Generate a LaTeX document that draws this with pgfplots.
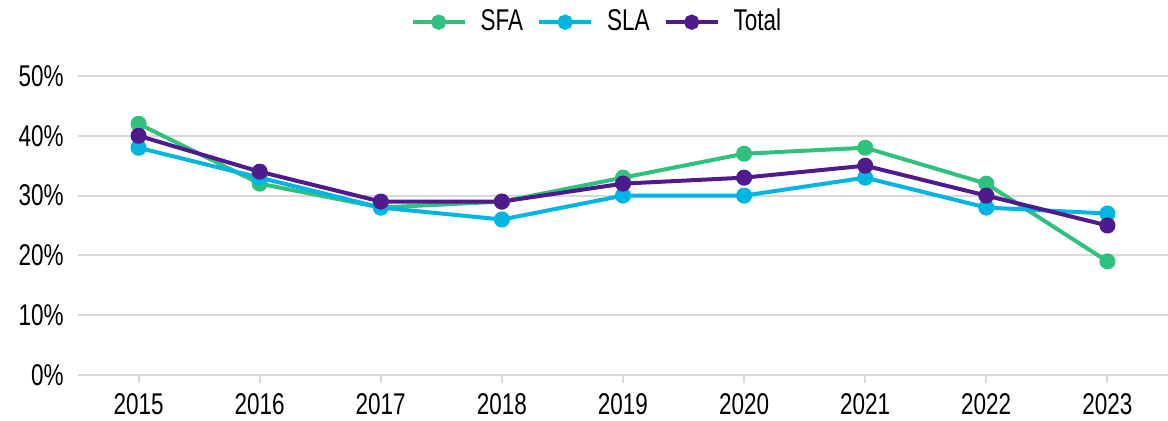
\documentclass[border=0pt]{standalone}
\usepackage{pgfplots}
\pgfplotsset{compat=1.18}
\usepackage{fontspec}
\setmainfont[FakeStretch=0.75]{Liberation Sans}
\definecolor{sfa}{HTML}{2EC27E}
\definecolor{sla}{HTML}{00B5E2}
\definecolor{tot}{HTML}{4E1A8E}
\definecolor{gridc}{HTML}{D9D9D9}
\begin{document}
\fontsize{15pt}{18pt}\selectfont
\begin{tikzpicture}
\begin{axis}[name=ax,
  scale only axis, width=545pt, height=149.5pt,
  xmin=2014.5, xmax=2023.5, ymin=0, ymax=50,
  xtick={2015,...,2023}, ytick={0,10,...,50},
  /pgf/number format/assume math mode=true,
  xticklabel={\pgfmathprintnumber[1000 sep=]{\tick}},
  yticklabel={\pgfmathprintnumber{\tick}\%},
  ymajorgrids, grid style={gridc, line width=1pt},
  axis line style={draw=none},
  axis x line*=bottom,
  x axis line style={draw=gridc, line width=1pt},
  major tick length=4pt,
  tick style={gridc, line width=1pt},
  xtick align=outside, ytick style={draw=none},
  tick label style={font=\fontsize{15pt}{18pt}\selectfont, text=black},
  xticklabel style={yshift=0pt},
  yticklabel style={xshift=-2pt},
  legend style={at={(0.477,1.18)}, anchor=center, draw=none, legend columns=-1,
    font=\fontsize{15pt}{18pt}\selectfont, column sep=5pt},
  legend image code/.code={
    \draw[#1, mark=none] (0pt,0pt) -- (26pt,0pt);
    \fill[#1] (13pt,0pt) circle (2.8pt);
  },
  every axis plot/.append style={line width=2pt, mark=*, mark size=3pt},
  clip=false,
]
\addplot[sfa, mark options={fill=sfa, draw=none}] coordinates {
(2015,42) (2016,32) (2017,28) (2018,29) (2019,33) (2020,37) (2021,38) (2022,32) (2023,19)};
\addlegendentry{SFA}
\addplot[sla, mark options={fill=sla, draw=none}] coordinates {
(2015,38) (2016,33) (2017,28) (2018,26) (2019,30) (2020,30) (2021,33) (2022,28) (2023,27)};
\addlegendentry{SLA}
\addplot[tot, mark options={fill=tot, draw=none}] coordinates {
(2015,40) (2016,34) (2017,29) (2018,29) (2019,32) (2020,33) (2021,35) (2022,30) (2023,25)};
\addlegendentry{Total}
\end{axis}
\pgfresetboundingbox
\path (ax.south west) ++(-39pt,-23pt) coordinate (bl);
\path (ax.south west) ++(545pt,187.5pt) coordinate (tr);
\path (bl) rectangle (tr);
\end{tikzpicture}
\end{document}
